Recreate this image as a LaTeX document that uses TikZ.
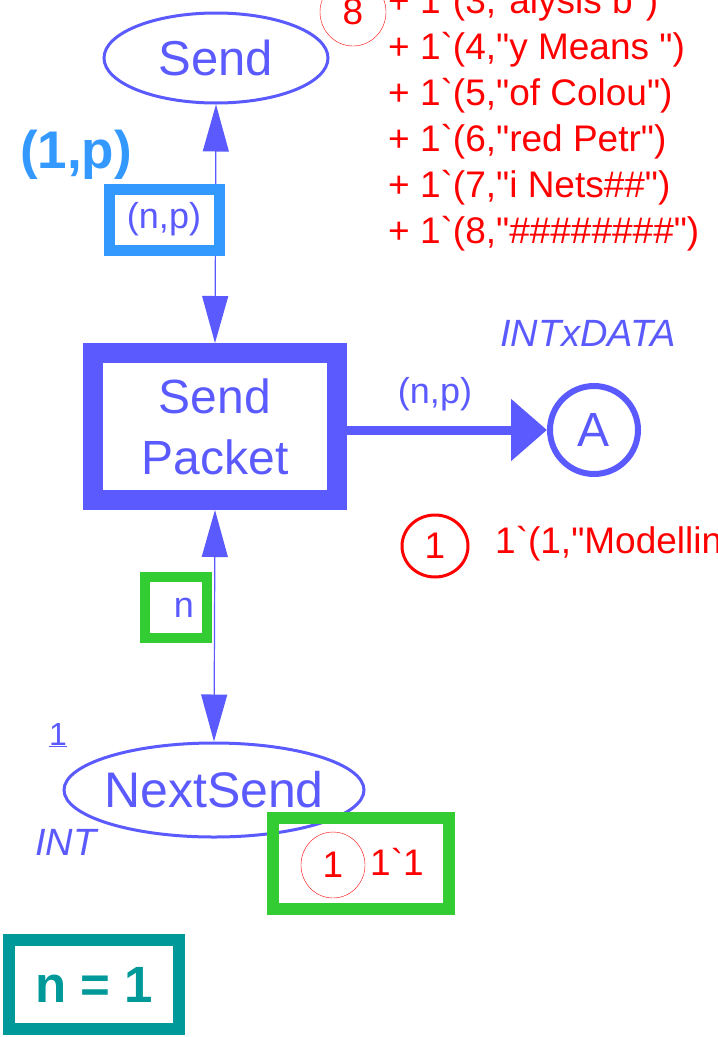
\documentclass[tikz,border=0pt]{standalone}
\usepackage{fontspec}
\setmainfont{Liberation Sans}[Ligatures=TeXOff]
\usetikzlibrary{shapes.geometric,arrows.meta}

\definecolor{netblue}{RGB}{90,90,255}
\definecolor{inscrblue}{RGB}{51,153,255}
\definecolor{netgreen}{RGB}{51,204,51}
\definecolor{netteal}{RGB}{0,153,153}
\newcommand{\bq}{\textasciigrave}
\newcommand{\fs}[1]{\fontsize{#1}{#1}\selectfont}

\tikzset{
  place/.style = {ellipse, draw=netblue, line width=3pt, inner sep=0pt, text=netblue},
  transition/.style = {rectangle, draw=netblue, line width=20pt, inner sep=0pt, text=netblue, align=center},
  inscr/.style = {rectangle, line width=11pt, inner sep=0pt, text=netblue},
  token/.style = {ellipse, draw=red, inner sep=0pt, text=red},
  arc/.style = {draw=netblue, line width=1.2pt, {Triangle[width=26pt,length=47pt]}-{Triangle[width=26pt,length=47pt]}},
  mset/.style = {anchor=base west, text=red, inner sep=0pt}
}

\begin{document}
\begin{tikzpicture}[x=1pt,y=-1pt]
    \useasboundingbox (0,0) rectangle (718,1037);
    \clip (0,0) rectangle (718,1037);

    % places and transition
    \node[place, minimum width=224pt, minimum height=90pt] (send) at (216,58) {\makebox[0pt]{\fs{49}Send}};
    \node[transition, minimum width=244pt, minimum height=147pt, font=\fontsize{48}{61}\selectfont] (sendpk) at (215,426.5)
        {Send\\Packet};
    \node[place, circle, line width=6pt, minimum size=88pt] (A) at (594,430) {\fs{48}A};
    \node[place, minimum width=300pt, minimum height=94pt] (nextsend) at (214,790) {\makebox[0pt]{\fs{50}NextSend}};

    \node[text=netblue] (tA) at (588,333) {\fs{38}\itshape INTxDATA};
    \node[text=netblue] (iNS) at (58,735) {\fs{32}\underline{1}};
    \node[text=netblue] (tNS) at (66,842) {\fs{38}\itshape INT};

    % arcs
    \draw[arc] (sendpk.north) -- (send.south);
    \draw[arc] (sendpk.south) -- (nextsend.north);
    \draw[draw=netblue, line width=9pt, -{Triangle[width=60pt,length=36pt]}]
        (sendpk.east |- A.west) -- (A.west);

    % inscriptions
    \node[inscr, draw=inscrblue, fill=white, minimum width=110pt, minimum height=61pt] (inSend) at (164,219.5) {\fs{36}(n,p)};
    \node[text=inscrblue] (bSend) at (76,155) {\fs{53}\bfseries (1,p)};
    \node[inscr, draw=netgreen, fill=white, line width=10pt, minimum width=62pt, minimum height=61pt] (inNS) at (176,607.5)
        {\hspace*{16pt}\raisebox{-6pt}{\fs{36}n}};
    \node[text=netblue] (inA) at (435,394) {\fs{36}(n,p)};

    % markings
    \node[token, line width=3pt, minimum width=66pt, minimum height=62pt] (tokA) at (435,546) {\fs{37}1};
    \node[mset] (mA) at (495,553) {\fs{37}1\bq(1,"Modellin};

    \node[inscr, draw=netgreen, line width=12pt, minimum width=176pt, minimum height=91pt] (mkNS) at (361,863.5) {};
    \node[token, minimum width=64pt, minimum height=66pt] (tokNS) at (333,865) {\fs{37}1};
    \node[mset] (mNS) at (370,875) {\fs{37}1\bq1};

    \node[token, minimum width=66pt, minimum height=68pt] (tokSend) at (353,12) {\fs{37}8};
    \node[mset] at (388,13)  {\fs{37}+ 1\bq(3,"alysis b")};
    \node[mset] at (388,59)  {\fs{37}+ 1\bq(4,"y Means ")};
    \node[mset] at (388,105) {\fs{37}+ 1\bq(5,"of Colou")};
    \node[mset] at (388,151) {\fs{37}+ 1\bq(6,"red Petr")};
    \node[mset] at (388,197) {\fs{37}+ 1\bq(7,"i Nets\#\#")};
    \node[mset] at (388,243) {\fs{37}+ 1\bq(8,"\#\#\#\#\#\#\#\#")};

    % binding
    \node[inscr, draw=netteal, line width=12pt, minimum width=170pt, minimum height=89pt, text=netteal] (bind) at (94,984.5)
        {\fs{51}\bfseries n = 1};
\end{tikzpicture}
\end{document}
